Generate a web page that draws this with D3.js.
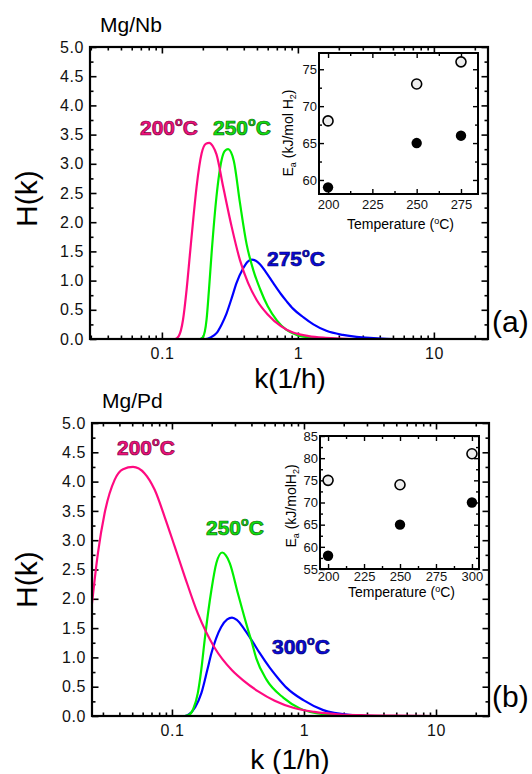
<!DOCTYPE html>
<html>
<head>
<meta charset="utf-8">
<script src="https://cdn.jsdelivr.net/npm/d3@7"></script>
<style>
  body { margin: 0; background: #fff; }
  svg { display: block; font-family: Arial, "Liberation Sans", sans-serif; }
</style>
</head>
<body>
<div id="chart"></div>
<script>
// Panel (a) Mg/Nb : H(k) curves, [k, H]
let nb200 = [[0.04, 0], [0.125, 0], [0.133, 0.05], [0.143, 0.33], [0.152, 0.85], [0.161, 1.47], [0.170, 2.05],
             [0.180, 2.61], [0.196, 3.18], [0.210, 3.34], [0.223, 3.36], [0.237, 3.30], [0.252, 3.16], [0.282, 2.61],
             [0.326, 1.92], [0.375, 1.35], [0.43, 0.96], [0.50, 0.66], [0.60, 0.42], [0.75, 0.22], [0.92, 0.11],
             [1.2, 0.05], [1.6, 0.02], [2.5, 0], [25, 0]];
let nb250 = [[0.04, 0], [0.19, 0], [0.200, 0.03], [0.213, 0.33], [0.222, 0.85], [0.232, 1.47], [0.252, 2.44],
             [0.275, 3.07], [0.290, 3.22], [0.307, 3.25], [0.322, 3.20], [0.338, 3.05], [0.375, 2.33], [0.420, 1.62],
             [0.47, 1.18], [0.526, 0.86], [0.60, 0.56], [0.70, 0.32], [0.82, 0.16], [0.98, 0.07], [1.3, 0.02],
             [2, 0], [25, 0]];
let nb275 = [[0.04, 0], [0.21, 0], [0.23, 0.03], [0.252, 0.10], [0.275, 0.25], [0.299, 0.44], [0.326, 0.70],
             [0.354, 0.96], [0.396, 1.21], [0.425, 1.32], [0.457, 1.36], [0.49, 1.34], [0.526, 1.28], [0.58, 1.15],
             [0.658, 0.96], [0.75, 0.77], [0.83, 0.64], [0.92, 0.52], [1.1, 0.37], [1.3, 0.25], [1.62, 0.14],
             [2.14, 0.07], [2.7, 0.035], [3.6, 0.015], [5, 0], [25, 0]];

// Panel (b) Mg/Pd
let pd200 = [[0.0248, 1.92], [0.0275, 2.78], [0.0309, 3.46], [0.0368, 4.03], [0.0426, 4.21], [0.0507, 4.25],
             [0.0621, 4.14], [0.074, 3.86], [0.088, 3.40], [0.105, 2.89], [0.125, 2.38], [0.157, 1.75],
             [0.211, 1.16], [0.285, 0.78], [0.35, 0.60], [0.45, 0.42], [0.60, 0.26], [0.83, 0.14], [1.2, 0.07],
             [1.8, 0.03], [2.7, 0.015], [5, 0.005], [10, 0], [20, 0]];
let pd250 = [[0.0248, 0], [0.125, 0], [0.135, 0.02], [0.145, 0.12], [0.157, 0.39], [0.167, 0.80], [0.177, 1.30],
             [0.199, 2.15], [0.217, 2.61], [0.240, 2.79], [0.256, 2.74], [0.274, 2.61], [0.316, 2.09], [0.377, 1.47],
             [0.40, 1.28], [0.436, 0.98], [0.52, 0.62], [0.70, 0.31], [0.93, 0.13], [1.4, 0.03], [2.5, 0], [20, 0]];
let pd300 = [[0.0248, 0], [0.125, 0], [0.135, 0.03], [0.150, 0.15], [0.167, 0.39], [0.185, 0.78], [0.199, 1.07],
             [0.236, 1.52], [0.262, 1.65], [0.285, 1.68], [0.310, 1.64], [0.356, 1.47], [0.40, 1.30], [0.46, 1.08],
             [0.552, 0.82], [0.65, 0.62], [0.74, 0.48], [0.99, 0.27], [1.4, 0.10], [2.2, 0.02], [3.5, 0], [20, 0]];

// Insets: activation energy vs temperature
let nbTemp = [200, 250, 275];
let nbEaOpen = [68, 73, 76];
let nbEaFilled = [59, 65, 66];
let pdTemp = [200, 250, 300];
let pdEaOpen = [75, 74, 81];
let pdEaFilled = [58, 65, 70];

let hTicks = [0, 0.5, 1, 1.5, 2, 2.5, 3, 3.5, 4, 4.5, 5];
let kTicks = [0.1, 1, 10];

const magenta = '#ff0a80', green = '#00f000', blue = '#0000ff';

let svg = d3.select('#chart').append('svg').attr('width', 532).attr('height', 774);

function minorLog(domain) {
  let out = [];
  for (let e = -2; e <= 1; e++) {
    for (let m = 1; m < 10; m++) {
      let v = m * Math.pow(10, e);
      if (m !== 1 && v >= domain[0] && v <= domain[1]) out.push(v);
    }
  }
  return out;
}

function degLabel(g, x, y, num, fill, stroke, size) {
  let t = g.append('text').attr('x', x).attr('y', y)
           .style('font-size', size + 'px').style('font-weight', 'bold')
           .attr('fill', fill).attr('stroke', stroke).attr('stroke-width', 0.7);
  t.append('tspan').text(num);
  t.append('tspan').attr('dy', -size * 0.42).style('font-size', (size * 0.6) + 'px').text('o');
  t.append('tspan').attr('dy', size * 0.42).text('C');
}

function panel(p) {
  let g = svg.append('g');
  let x = d3.scaleLog().domain(p.xDomain).range([p.left, p.right]);
  let y = d3.scaleLinear().domain([0, 5]).range([p.bottom, p.top]);

  // minor ticks
  let minorX = minorLog(p.xDomain);
  let minorY = d3.range(0.25, 5, 0.5);
  g.append('g').attr('transform', `translate(0,${p.bottom})`)
   .call(d3.axisBottom(x).tickValues(minorX).tickSize(-3.5).tickFormat(''));
  g.append('g').attr('transform', `translate(0,${p.top})`)
   .call(d3.axisTop(x).tickValues(minorX).tickSize(-3.5).tickFormat(''));
  g.append('g').attr('transform', `translate(${p.left},0)`)
   .call(d3.axisLeft(y).tickValues(minorY).tickSize(-3.5).tickFormat(''));
  g.append('g').attr('transform', `translate(${p.right},0)`)
   .call(d3.axisRight(y).tickValues(minorY).tickSize(-3.5).tickFormat(''));

  // major ticks
  g.append('g').attr('class', 'ax').attr('transform', `translate(0,${p.bottom})`)
   .call(d3.axisBottom(x).tickValues(kTicks).tickSize(-6.5).tickPadding(9).tickFormat(d => String(d)));
  g.append('g').attr('transform', `translate(0,${p.top})`)
   .call(d3.axisTop(x).tickValues(kTicks).tickSize(-6.5).tickFormat(''));
  g.append('g').attr('class', 'ax').attr('transform', `translate(${p.left},0)`)
   .call(d3.axisLeft(y).tickValues(hTicks).tickSize(-6.5).tickPadding(6).tickFormat(d3.format('.1f')));
  g.append('g').attr('transform', `translate(${p.right},0)`)
   .call(d3.axisRight(y).tickValues(hTicks).tickSize(-6.5).tickFormat(''));

  g.selectAll('.domain').remove();
  g.selectAll('.tick line').attr('stroke', '#000').attr('stroke-width', 1.6);
  g.selectAll('.ax .tick text').style('font-size', '16px').style('letter-spacing', '0.6px').attr('fill', '#111');

  let line = d3.line().x(d => x(d[0])).y(d => y(d[1])).curve(d3.curveMonotoneX);
  p.series.forEach(s => {
    g.append('path').datum(s.data).attr('d', line)
     .attr('fill', 'none').attr('stroke', s.color).attr('stroke-width', 2.2);
  });

  g.append('rect').attr('x', p.left).attr('y', p.top)
   .attr('width', p.right - p.left).attr('height', p.bottom - p.top)
   .attr('fill', 'none').attr('stroke', '#000').attr('stroke-width', 2.2);

  p.labels.forEach(l => degLabel(g, l.x, l.y, l.text, l.fill, l.stroke, 21));

  g.append('text').attr('x', p.left + 10).attr('y', p.top - 15).style('font-size', '21px').text(p.title);
  g.append('text').attr('transform', `translate(37,${p.hkY}) rotate(-90)`).style('font-size', '30px').text('H(k)');
  g.append('text').attr('x', 290).attr('y', p.kY).attr('text-anchor', 'middle').style('font-size', '28px').text(p.kLabel);
  g.append('text').attr('x', 492).attr('y', p.tagY).style('font-size', '30px').text(p.tag);

  inset(g, p.inset);
}

function inset(g0, q) {
  let g = g0.append('g');
  let x = d3.scaleLinear().domain(q.xDomain).range([q.left, q.right]);
  let y = d3.scaleLinear().domain(q.yDomain).range([q.bottom, q.top]);
  let minorX = d3.range(q.xTicks[0] + 12.5, q.xDomain[1], 25);
  let minorY = d3.range(q.yTicks[0] - 2.5, q.yDomain[1], 5).filter(v => v > q.yDomain[0]);

  g.append('g').attr('transform', `translate(0,${q.bottom})`)
   .call(d3.axisBottom(x).tickValues(minorX).tickSize(-3).tickFormat(''));
  g.append('g').attr('transform', `translate(0,${q.top})`)
   .call(d3.axisTop(x).tickValues(minorX).tickSize(-3).tickFormat(''));
  g.append('g').attr('transform', `translate(${q.left},0)`)
   .call(d3.axisLeft(y).tickValues(minorY).tickSize(-3).tickFormat(''));
  g.append('g').attr('transform', `translate(${q.right},0)`)
   .call(d3.axisRight(y).tickValues(minorY).tickSize(-3).tickFormat(''));

  g.append('g').attr('class', 'ix').attr('transform', `translate(0,${q.bottom})`)
   .call(d3.axisBottom(x).tickValues(q.xTicks).tickSize(-5).tickPadding(q.xPad));
  g.append('g').attr('transform', `translate(0,${q.top})`)
   .call(d3.axisTop(x).tickValues(q.xTicks).tickSize(-5).tickFormat(''));
  g.append('g').attr('class', 'ix').attr('transform', `translate(${q.left},0)`)
   .call(d3.axisLeft(y).tickValues(q.yTicks).tickSize(-5).tickPadding(2));
  g.append('g').attr('transform', `translate(${q.right},0)`)
   .call(d3.axisRight(y).tickValues(q.yTicks).tickSize(-5).tickFormat(''));

  g.selectAll('.domain').remove();
  g.selectAll('.tick line').attr('stroke', '#000').attr('stroke-width', 1.4);
  g.selectAll('.ix .tick text').style('font-size', '13px').attr('fill', '#111');

  g.append('rect').attr('x', q.left).attr('y', q.top)
   .attr('width', q.right - q.left).attr('height', q.bottom - q.top)
   .attr('fill', 'none').attr('stroke', '#000').attr('stroke-width', 2);

  g.selectAll('.open').data(q.temps).enter().append('circle')
   .attr('cx', d => x(d)).attr('cy', (d, i) => y(q.open[i])).attr('r', 5)
   .attr('fill', '#eee').attr('stroke', '#000').attr('stroke-width', 1.6);
  g.selectAll('.filled').data(q.temps).enter().append('circle')
   .attr('cx', d => x(d)).attr('cy', (d, i) => y(q.filled[i])).attr('r', 5.2)
   .attr('fill', '#000');

  let t = g.append('text').attr('x', (q.left + q.right) / 2 + 2).attr('y', q.tempY)
           .attr('text-anchor', 'middle').style('font-size', '14px');
  t.append('tspan').text('Temperature (');
  t.append('tspan').attr('dy', -5).style('font-size', '9px').text('o');
  t.append('tspan').attr('dy', 5).text('C)');

  let e = g.append('text').attr('transform', `translate(${q.eaX},${q.eaY}) rotate(-90)`)
           .attr('text-anchor', 'middle').style('font-size', '14px');
  e.append('tspan').text('E');
  e.append('tspan').attr('dy', 3).style('font-size', '9px').text('a');
  e.append('tspan').attr('dy', -3).text(q.eaUnit);
  e.append('tspan').attr('dy', 3).style('font-size', '9px').text('2');
  e.append('tspan').attr('dy', -3).text(')');
}

panel({
  left: 90, right: 488, top: 47, bottom: 339, xDomain: [0.0296, 25],
  series: [{ data: nb275, color: blue }, { data: nb250, color: green }, { data: nb200, color: magenta }],
  labels: [
    { x: 140, y: 135, text: '200', fill: '#f0127a', stroke: '#7a0040' },
    { x: 213, y: 135, text: '250', fill: '#10e010', stroke: '#0a6a0a' },
    { x: 267, y: 266, text: '275', fill: '#0a0ad8', stroke: '#00006a' }
  ],
  title: 'Mg/Nb', hkY: 227, kY: 388, kLabel: 'k(1/h)', tag: '(a)', tagY: 332,
  inset: {
    left: 319, right: 478, top: 53, bottom: 194, xDomain: [194.9, 284.6], yDomain: [58.1, 77.2],
    xTicks: [200, 225, 250, 275], yTicks: [60, 65, 70, 75], xPad: 6,
    temps: nbTemp, open: nbEaOpen, filled: nbEaFilled,
    tempY: 229, eaX: 293, eaY: 133, eaUnit: ' (kJ/mol H'
  }
});

panel({
  left: 92, right: 489, top: 423, bottom: 716, xDomain: [0.0248, 25.2],
  series: [{ data: pd300, color: blue }, { data: pd250, color: green }, { data: pd200, color: magenta }],
  labels: [
    { x: 117, y: 455, text: '200', fill: '#f0127a', stroke: '#7a0040' },
    { x: 206, y: 535, text: '250', fill: '#10e010', stroke: '#0a6a0a' },
    { x: 272, y: 654, text: '300', fill: '#0a0ad8', stroke: '#00006a' }
  ],
  title: 'Mg/Pd', hkY: 608, kY: 769, kLabel: 'k (1/h)', tag: '(b)', tagY: 707,
  inset: {
    left: 320, right: 479, top: 436, bottom: 569, xDomain: [194.4, 304.9], yDomain: [55, 85],
    xTicks: [200, 225, 250, 275, 300], yTicks: [55, 60, 65, 70, 75, 80, 85], xPad: 3,
    temps: pdTemp, open: pdEaOpen, filled: pdEaFilled,
    tempY: 597, eaX: 296, eaY: 506, eaUnit: ' (kJ/molH'
  }
});
</script>
</body>
</html>
